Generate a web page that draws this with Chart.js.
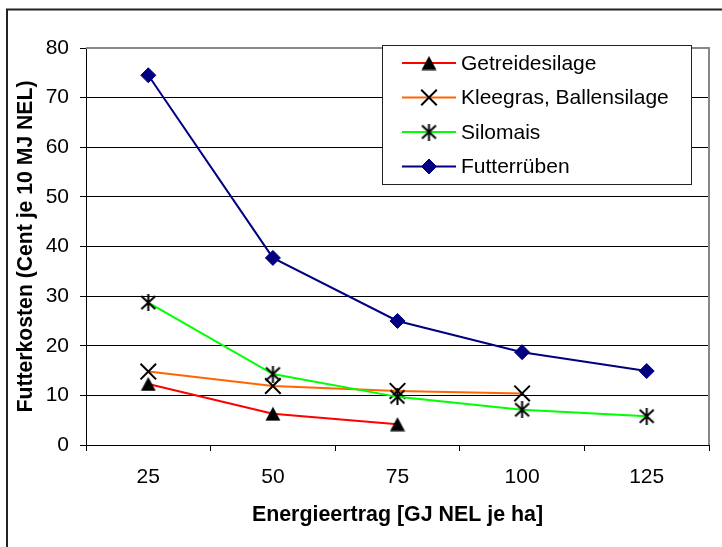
<!DOCTYPE html>
<html><head><meta charset="utf-8">
<script src="https://cdn.jsdelivr.net/npm/chart.js@4/dist/chart.umd.min.js"></script>
<style>html,body{margin:0;padding:0;background:#fff;overflow:hidden}#wrap{width:722px;height:547px;position:relative}</style>
</head><body><div id="wrap"><canvas id="c" width="722" height="547"></canvas></div>
<script>
const categories = ['25', '50', '75', '100', '125'];
const seriesNames = ['Getreidesilage', 'Kleegras, Ballensilage', 'Silomais', 'Futterrüben'];
const getreidesilage = [12.3, 6.3, 4.2, null, null];
const kleegras = [14.8, 11.9, 10.9, 10.4, null];
const silomais = [28.7, 14.3, 9.7, 7.1, 5.8];
const futterrueben = [74.5, 37.7, 25.0, 18.7, 14.9];
const yMin = 0, yMax = 80, yStep = 10;
const xTitle = 'Energieertrag [GJ NEL je ha]';
const yTitle = 'Futterkosten (Cent je 10 MJ NEL)';

const FONT = '"Liberation Sans", Arial, sans-serif';

function makeTriangle() {
  const c = document.createElement('canvas');
  c.width = 16; c.height = 15;
  const g = c.getContext('2d');
  g.fillStyle = '#000';
  g.beginPath(); g.moveTo(8, 0.5); g.lineTo(15.5, 14.5); g.lineTo(0.5, 14.5); g.closePath(); g.fill();
  return c;
}
function makeStar() {
  const c = document.createElement('canvas');
  c.width = 17; c.height = 17;
  const g = c.getContext('2d');
  g.strokeStyle = '#000'; g.lineWidth = 2;
  g.beginPath();
  g.moveTo(1.5, 2); g.lineTo(15.5, 15);
  g.moveTo(15.5, 2); g.lineTo(1.5, 15);
  g.moveTo(8.5, 0); g.lineTo(8.5, 17);
  g.stroke();
  return c;
}
const triangleImg = makeTriangle();
const starImg = makeStar();

const datasets = [
  { label: seriesNames[0], data: getreidesilage, borderColor: '#FF0000', pointStyle: triangleImg, pointRadius: 8, pointBackgroundColor: '#000', pointBorderColor: '#000', pointBorderWidth: 0, order: 4 },
  { label: seriesNames[1], data: kleegras, borderColor: '#FF6600', pointStyle: 'crossRot', pointRadius: 11, pointBackgroundColor: '#000', pointBorderColor: '#000', pointBorderWidth: 2, order: 3 },
  { label: seriesNames[2], data: silomais, borderColor: '#00FF00', pointStyle: starImg, pointRadius: 8, pointBackgroundColor: '#000', pointBorderColor: '#000', pointBorderWidth: 0, order: 2 },
  { label: seriesNames[3], data: futterrueben, borderColor: '#000080', pointStyle: 'rectRot', pointRadius: 7.5, pointBackgroundColor: '#000080', pointBorderColor: '#000080', pointBorderWidth: 1, order: 1 }
].map(d => Object.assign({ borderWidth: 2, tension: 0, fill: false, spanGaps: false, pointHoverRadius: d.pointRadius }, d));

const frame = {
  id: 'frame',
  beforeDraw(chart) {
    const ctx = chart.ctx;
    ctx.save();
    ctx.fillStyle = '#fff';
    ctx.fillRect(0, 0, chart.width, chart.height);
    ctx.strokeStyle = '#222';
    ctx.lineWidth = 2;
    ctx.beginPath();
    ctx.moveTo(7, chart.height); ctx.lineTo(7, 9.5); ctx.lineTo(chart.width, 9.5);
    ctx.stroke();
    ctx.restore();
  },
  beforeDatasetsDraw(chart) {
    const ctx = chart.ctx, a = chart.chartArea;
    ctx.save();
    ctx.strokeStyle = '#888';
    ctx.lineWidth = 2;
    ctx.beginPath();
    ctx.moveTo(a.left, a.top); ctx.lineTo(a.right, a.top); ctx.lineTo(a.right, a.bottom);
    ctx.stroke();
    ctx.restore();
  }
};

const boxLegend = {
  id: 'boxLegend',
  afterDraw(chart) {
    const ctx = chart.ctx;
    const bx = 382, by = 45, bw = 309, bh = 139;
    ctx.save();
    ctx.fillStyle = '#fff';
    ctx.fillRect(bx, by, bw, bh);
    ctx.strokeStyle = '#222';
    ctx.lineWidth = 1;
    ctx.strokeRect(bx + 0.5, by + 0.5, bw, bh);
    chart.data.datasets.forEach((ds, i) => {
      const y = 63 + i * 34.5;
      ctx.strokeStyle = ds.borderColor;
      ctx.lineWidth = 2;
      ctx.beginPath(); ctx.moveTo(402, y); ctx.lineTo(456, y); ctx.stroke();
      const opts = { pointStyle: ds.pointStyle, radius: ds.pointRadius, rotation: 0, borderWidth: ds.pointBorderWidth };
      ctx.fillStyle = ds.pointBackgroundColor;
      ctx.strokeStyle = ds.pointBorderColor;
      ctx.lineWidth = ds.pointBorderWidth;
      if (Chart.helpers && Chart.helpers.drawPoint) {
        Chart.helpers.drawPoint(ctx, opts, 429, y);
      }
      ctx.fillStyle = '#000';
      ctx.font = '21px ' + FONT;
      ctx.textBaseline = 'middle';
      ctx.textAlign = 'left';
      ctx.fillText(ds.label, 461, y + 1);
    });
    ctx.restore();
  }
};

new Chart(document.getElementById('c'), {
  type: 'line',
  data: { labels: categories, datasets },
  options: {
    responsive: false,
    animation: false,
    devicePixelRatio: 1,
    layout: { padding: { top: 48, right: 3, left: 0, bottom: 0 } },
    plugins: { legend: { display: false }, tooltip: { enabled: false } },
    events: [],
    scales: {
      x: {
        type: 'category',
        offset: true,
        grid: { offset: true, drawOnChartArea: false, drawTicks: true, tickLength: 6, color: '#000' },
        border: { color: '#000', width: 1 },
        ticks: { color: '#000', font: { family: FONT, size: 21 }, padding: 14, maxRotation: 0 },
        title: { display: true, text: xTitle, color: '#000', font: { family: FONT, size: 21.4, weight: 'bold' }, padding: { top: 0, bottom: 19 } },
        afterFit(s) { s.height = 102; }
      },
      y: {
        min: yMin, max: yMax,
        ticks: { stepSize: yStep, color: '#000', font: { family: FONT, size: 21 }, padding: 11 },
        grid: { color: '#000', tickLength: 6 },
        border: { color: '#000', width: 1 },
        title: { display: true, text: yTitle, color: '#000', font: { family: FONT, size: 21.2, weight: 'bold' }, padding: { top: 13.5, bottom: 0 } },
        afterFit(s) { s.width = 86; }
      }
    }
  },
  plugins: [frame, boxLegend]
});
</script>
</body></html>
